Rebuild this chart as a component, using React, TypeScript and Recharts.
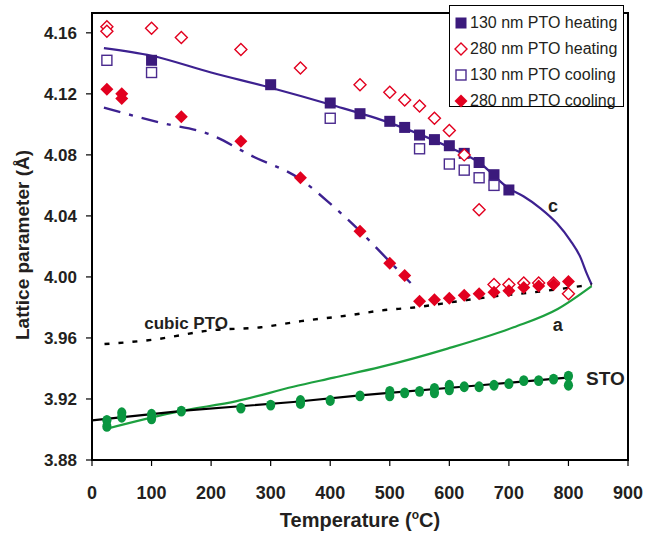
import React from 'react';
import { ComposedChart, Line, Scatter, XAxis, YAxis, ReferenceArea, ReferenceDot } from 'recharts';

const X_TICKS = [0, 100, 200, 300, 400, 500, 600, 700, 800, 900];
const Y_TICKS = [3.88, 3.92, 3.96, 4.0, 4.04, 4.08, 4.12, 4.16];

// 130 nm PTO heating (filled squares)
const heat130T = [100, 300, 400, 450, 500, 525, 550, 575, 600, 625, 650, 675, 700];
const heat130V = [4.142, 4.126, 4.114, 4.107, 4.102, 4.098, 4.093, 4.09, 4.086, 4.081, 4.075, 4.067, 4.057];

// 280 nm PTO heating (open diamonds)
const heat280T = [25, 25, 100, 150, 250, 350, 450, 500, 525, 550, 575, 600, 625, 650, 675, 700, 725, 750, 775, 800];
const heat280V = [4.164, 4.161, 4.163, 4.157, 4.149, 4.137, 4.126, 4.121, 4.116, 4.112, 4.104, 4.096, 4.08, 4.044, 3.995, 3.995, 3.996, 3.996, 3.996, 3.989];

// 130 nm PTO cooling (open squares)
const cool130T = [25, 100, 400, 550, 600, 625, 650, 675];
const cool130V = [4.142, 4.134, 4.104, 4.084, 4.074, 4.07, 4.065, 4.06];

// 280 nm PTO cooling (filled diamonds)
const cool280T = [25, 50, 50, 150, 250, 350, 450, 500, 525, 550, 575, 600, 625, 650, 675, 700, 725, 750, 775, 800];
const cool280V = [4.123, 4.12, 4.117, 4.105, 4.089, 4.065, 4.03, 4.009, 4.001, 3.984, 3.985, 3.986, 3.988, 3.989, 3.99, 3.991, 3.993, 3.994, 3.995, 3.997];

// STO (green circles)
const stoT = [25, 25, 50, 50, 100, 100, 150, 250, 300, 350, 350, 400, 450, 500, 500, 525, 550, 575, 575, 600, 600, 625, 650, 675, 700, 725, 750, 775, 800, 800];
const stoV = [3.906, 3.902, 3.911, 3.908, 3.91, 3.907, 3.912, 3.914, 3.916, 3.919, 3.917, 3.919, 3.922, 3.925, 3.922, 3.924, 3.925, 3.927, 3.924, 3.929, 3.926, 3.928, 3.928, 3.929, 3.93, 3.932, 3.932, 3.933, 3.935, 3.929];

// fitted curves
const cFitT = [20, 100, 200, 300, 400, 500, 600, 650, 700, 725, 753, 781, 803, 820, 831, 839];
const cFitV = [4.15, 4.145, 4.134, 4.124, 4.113, 4.101, 4.085, 4.075, 4.058, 4.0527, 4.045, 4.035, 4.024, 4.013, 4.002, 3.995];

const dashFitT = [20, 116, 194, 270, 350, 400, 450, 500, 535];
const dashFitV = [4.111, 4.101, 4.094, 4.079, 4.064, 4.048, 4.03, 4.01, 3.996];

const aFitT = [20, 148, 243, 338, 406, 485, 597, 708, 782, 839];
const aFitV = [3.9, 3.912, 3.9186, 3.928, 3.934, 3.941, 3.953, 3.967, 3.979, 3.994];

const cubicT = [21, 105, 200, 284, 351, 435, 485, 541, 614, 670, 743, 821, 839];
const cubicV = [3.956, 3.959, 3.965, 3.967, 3.971, 3.975, 3.978, 3.98, 3.984, 3.987, 3.99, 3.994, 3.995];

const stoFitT = [0, 160, 338, 450, 484, 652, 798];
const stoFitV = [3.906, 3.9125, 3.918, 3.9224, 3.9235, 3.929, 3.934];

const zip = (t: number[], v: number[]) => t.map((x, i) => ({ x, y: v[i] }));

const FONT = '"Liberation Sans", Arial, Helvetica, sans-serif';
const TXT = '#231f20';
const PURPLE = '#3b1a7c';
const PURPLE_LINE = '#3d2190';
const RED = '#e2001f';
const GREEN = '#0a9640';
const GREEN_LINE = '#1da03f';

const FilledSquare = (p: any) => <rect x={p.cx - 5.5} y={p.cy - 5.5} width={11} height={11} fill={PURPLE} />;
const OpenSquare = (p: any) => (
  <rect x={p.cx - 5} y={p.cy - 5} width={10} height={10} fill="#fff" stroke="#4a2a8e" strokeWidth={1.4} />
);
const OpenDiamond = (p: any) => (
  <polygon
    points={`${p.cx},${p.cy - 6} ${p.cx + 6},${p.cy} ${p.cx},${p.cy + 6} ${p.cx - 6},${p.cy}`}
    fill="#fff"
    stroke={RED}
    strokeWidth={1.4}
  />
);
const FilledDiamond = (p: any) => (
  <polygon
    points={`${p.cx},${p.cy - 6.5} ${p.cx + 6.5},${p.cy} ${p.cx},${p.cy + 6.5} ${p.cx - 6.5},${p.cy}`}
    fill={RED}
  />
);
const GreenDot = (p: any) => <ellipse cx={p.cx} cy={p.cy} rx={4.6} ry={5.4} fill={GREEN} />;

const XTitle = (props: any) => {
  const vb = props.viewBox || { x: 92, y: 460, width: 536 };
  const cx = vb.x + vb.width / 2;
  return (
    <text x={cx} y={527} textAnchor="middle" fontFamily={FONT} fontSize={20} fontWeight="bold" fill={TXT}>
      <tspan>Temperature (</tspan>
      <tspan fontSize={12} dy={-8}>o</tspan>
      <tspan dy={8}>C)</tspan>
    </text>
  );
};

const YTitle = () => (
  <text
    x={22}
    y={245}
    transform="rotate(-90 22 245)"
    textAnchor="middle"
    dominantBaseline="central"
    fontFamily={FONT}
    fontSize={19}
    fontWeight="bold"
    fill={TXT}
  >
    Lattice parameter (Å)
  </text>
);

const legendItems = [
  { label: '130 nm PTO heating', kind: 'fsq' },
  { label: '280 nm PTO heating', kind: 'odi' },
  { label: '130 nm PTO cooling', kind: 'osq' },
  { label: '280 nm PTO cooling', kind: 'fdi' },
];

const LegendMarker = ({ kind }: { kind: string }) => {
  const c = 7;
  let el: any = null;
  if (kind === 'fsq') el = <rect x={1.5} y={1.5} width={11} height={11} fill={PURPLE} />;
  if (kind === 'osq') el = <rect x={2} y={2} width={10} height={10} fill="#fff" stroke="#4a2a8e" strokeWidth={1.4} />;
  if (kind === 'odi')
    el = <polygon points={`${c},1 ${c + 6},${c} ${c},${c + 6} ${c - 6},${c}`} fill="#fff" stroke={RED} strokeWidth={1.4} />;
  if (kind === 'fdi') el = <polygon points={`${c},0.5 ${c + 6.5},${c} ${c},${c + 6.5} ${c - 6.5},${c}`} fill={RED} />;
  return (
    <svg width={14} height={14} style={{ display: 'block' }}>
      {el}
    </svg>
  );
};

const labelStyle = { fontFamily: FONT, fontWeight: 'bold' as const, fill: TXT };

export default function App() {
  return (
    <div style={{ position: 'absolute', left: 0, top: 0, width: 645, height: 534, background: '#fff' }}>
      <ComposedChart width={645} height={534} margin={{ top: 13, right: 17, bottom: 0, left: 0 }}>
        <XAxis
          type="number"
          dataKey="x"
          domain={[0, 900]}
          ticks={X_TICKS}
          allowDataOverflow
          height={74}
          tickSize={6}
          tickMargin={20}
          interval={0}
          tick={{ fontSize: 18, fontWeight: 'bold', fill: TXT, fontFamily: FONT }}
          axisLine={{ stroke: '#000', strokeWidth: 2 }}
          tickLine={{ stroke: '#000', strokeWidth: 1.2 }}
          label={{ content: XTitle }}
        />
        <YAxis
          type="number"
          dataKey="y"
          domain={[3.88, 4.173]}
          ticks={Y_TICKS}
          allowDataOverflow
          width={92}
          tickSize={6}
          tickMargin={9}
          interval={0}
          tickFormatter={(v: number) => v.toFixed(2)}
          tick={{ fontSize: 17, fontWeight: 'bold', fill: TXT, fontFamily: FONT }}
          axisLine={{ stroke: '#000', strokeWidth: 2 }}
          tickLine={{ stroke: '#000', strokeWidth: 1.2 }}
          label={{ content: YTitle }}
        />
        <ReferenceArea x1={0} x2={900} y1={3.88} y2={4.173} fill="none" stroke="#000" strokeWidth={2} ifOverflow="visible" />

        <Line data={zip(cFitT, cFitV)} dataKey="y" type="monotone" stroke={PURPLE_LINE} strokeWidth={2.2} dot={false} activeDot={false} isAnimationActive={false} />
        <Line data={zip(dashFitT, dashFitV)} dataKey="y" type="monotone" stroke={PURPLE_LINE} strokeWidth={2.4} strokeDasharray="17 9 4 9" dot={false} activeDot={false} isAnimationActive={false} />
        <Line data={zip(cubicT, cubicV)} dataKey="y" type="monotone" stroke="#000" strokeWidth={2.4} strokeDasharray="5 9" dot={false} activeDot={false} isAnimationActive={false} />
        <Line data={zip(aFitT, aFitV)} dataKey="y" type="monotone" stroke={GREEN_LINE} strokeWidth={2.2} dot={false} activeDot={false} isAnimationActive={false} />
        <Line data={zip(stoFitT, stoFitV)} dataKey="y" type="linear" stroke="#000" strokeWidth={2.2} dot={false} activeDot={false} isAnimationActive={false} />

        <Scatter data={zip(heat130T, heat130V)} dataKey="y" shape={FilledSquare} isAnimationActive={false} />
        <Scatter data={zip(heat280T, heat280V)} dataKey="y" shape={OpenDiamond} isAnimationActive={false} />
        <Scatter data={zip(cool130T, cool130V)} dataKey="y" shape={OpenSquare} isAnimationActive={false} />
        <Scatter data={zip(cool280T, cool280V)} dataKey="y" shape={FilledDiamond} isAnimationActive={false} />
        <Scatter data={zip(stoT, stoV)} dataKey="y" shape={GreenDot} isAnimationActive={false} />

        <ReferenceDot x={774} y={4.047} r={1} fill="none" stroke="none" label={{ value: 'c', position: 'center', fontSize: 18, ...labelStyle }} />
        <ReferenceDot x={782} y={3.969} r={1} fill="none" stroke="none" label={{ value: 'a', position: 'center', fontSize: 18, ...labelStyle }} />
        <ReferenceDot x={862} y={3.9338} r={1} fill="none" stroke="none" label={{ value: 'STO', position: 'center', fontSize: 19, ...labelStyle }} />
        <ReferenceDot x={158} y={3.970} r={1} fill="none" stroke="none" label={{ value: 'cubic PTO', position: 'center', fontSize: 17, ...labelStyle }} />
      </ComposedChart>

      <div
        style={{
          position: 'absolute',
          left: 449,
          top: 5,
          width: 175,
          height: 102,
          border: '1px solid #000',
          background: '#fff',
          boxSizing: 'border-box',
          fontFamily: FONT,
          fontSize: 16,
          color: TXT,
          paddingTop: 4,
        }}
      >
        {legendItems.map((it) => (
          <div key={it.label} style={{ display: 'flex', alignItems: 'center', height: 26, paddingLeft: 4 }}>
            <LegendMarker kind={it.kind} />
            <span style={{ marginLeft: 2, whiteSpace: 'nowrap' }}>{it.label}</span>
          </div>
        ))}
      </div>
    </div>
  );
}
